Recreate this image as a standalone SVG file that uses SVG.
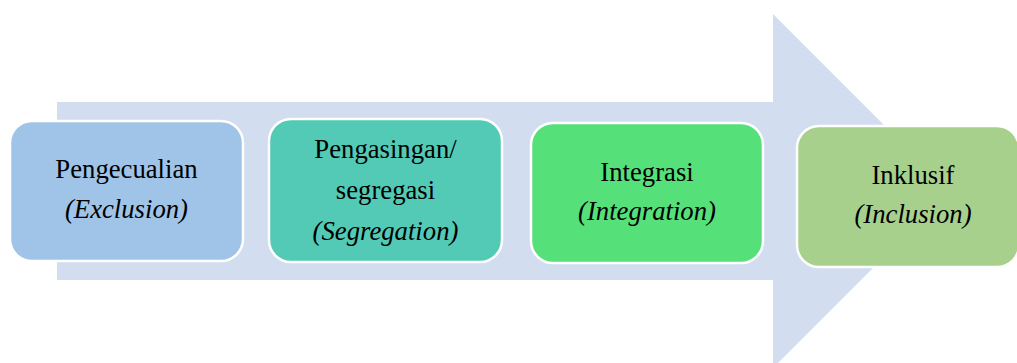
<svg xmlns="http://www.w3.org/2000/svg" width="1017" height="363" viewBox="0 0 1017 363">
<style>
.box{stroke:#ffffff;stroke-width:2.5}
.t{font-family:"Times New Roman",Times,"Liberation Serif","Noto Serif","DejaVu Serif",serif;font-size:26.7px;fill:#000000;text-anchor:middle}
.i{font-style:italic}
</style>
<rect width="1017" height="363" fill="#ffffff"/>
<g id="arrow">
<polygon points="57,102 773,102 773,14 950,191 773,368 773,280 57,280" fill="#D2DDEF"/>
</g>
<g id="connectors"></g>
<g id="node1">
<rect class="box" x="10" y="121" width="233" height="140" rx="22" fill="#9FC4E7"/>
<text class="t" x="126.5" y="178">Pengecualian</text>
<text class="t i" x="126.5" y="218">(Exclusion)</text>
</g>
<g id="node2">
<rect class="box" x="269" y="119" width="233" height="143" rx="22" fill="#52CAB6"/>
<text class="t" x="385.5" y="158">Pengasingan/</text>
<text class="t" x="385.5" y="199">segregasi</text>
<text class="t i" x="385.5" y="240">(Segregation)</text>
</g>
<g id="node3">
<rect class="box" x="531" y="123" width="232" height="140" rx="22" fill="#55E07A"/>
<text class="t" x="647" y="181">Integrasi</text>
<text class="t i" x="647" y="220">(Integration)</text>
</g>
<g id="node4">
<rect class="box" x="797" y="126" width="222" height="141" rx="22" fill="#A8D08D"/>
<text class="t" x="913" y="184">Inklusif</text>
<text class="t i" x="913" y="223">(Inclusion)</text>
</g>
</svg>
